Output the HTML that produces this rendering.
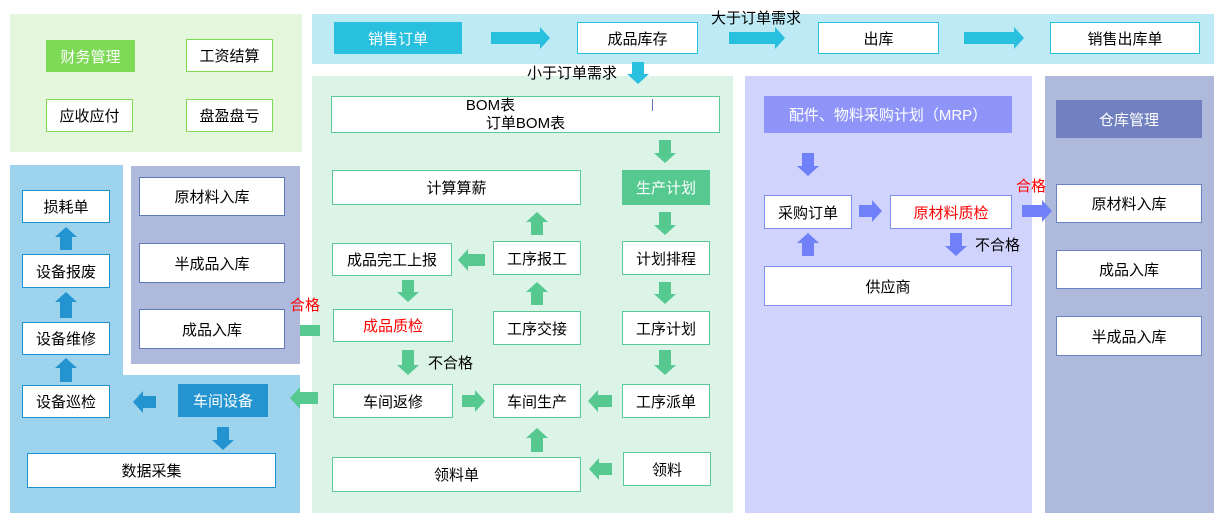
<!DOCTYPE html>
<html><head><meta charset="utf-8">
<style>
body{margin:0;width:1231px;height:527px;background:#fff;position:relative;overflow:hidden;font-family:"Liberation Sans","Noto Sans CJK SC",sans-serif;font-size:15px;color:#000}
.p{position:absolute}
.b{position:absolute;box-sizing:border-box;background:#fff;display:flex;align-items:center;justify-content:center;border:1.5px solid #5cc896}
.t{position:absolute;white-space:nowrap}
svg{position:absolute;left:0;top:0}
</style></head><body>
<div class="p" style="left:10px;top:14px;width:292px;height:138px;background:#e4f6dc"></div>
<div class="p" style="left:312px;top:14px;width:902px;height:50px;background:#bdeaf5"></div>
<div class="p" style="left:312px;top:76px;width:421px;height:437px;background:#dcf3e8"></div>
<div class="p" style="left:10px;top:165px;width:113px;height:348px;background:#9dd3ed"></div>
<div class="p" style="left:10px;top:375px;width:290px;height:138px;background:#9dd3ed"></div>
<div class="p" style="left:131px;top:166px;width:169px;height:198px;background:#aeb9dc"></div>
<div class="p" style="left:745px;top:76px;width:287px;height:437px;background:#d0d3fb"></div>
<div class="p" style="left:1045px;top:76px;width:169px;height:437px;background:#aeb9dc"></div>

<div class="b" style="left:46px;top:40px;width:89px;height:32px;background:#7ed957;border:none;color:#fff">财务管理</div>
<div class="b" style="left:186px;top:39px;width:87px;height:33px;border-color:#7ed957">工资结算</div>
<div class="b" style="left:46px;top:99px;width:87px;height:33px;border-color:#7ed957">应收应付</div>
<div class="b" style="left:186px;top:99px;width:87px;height:33px;border-color:#7ed957">盘盈盘亏</div>

<div class="b" style="left:334px;top:22px;width:128px;height:32px;background:#29c0e0;border:none;color:#fff">销售订单</div>
<div class="b" style="left:577px;top:22px;width:121px;height:32px;border-color:#29c0e0">成品库存</div>
<div class="t" style="left:711px;top:7px">大于订单需求</div>
<div class="b" style="left:818px;top:22px;width:121px;height:32px;border-color:#29c0e0">出库</div>
<div class="b" style="left:1050px;top:22px;width:150px;height:32px;border-color:#29c0e0">销售出库单</div>
<div class="t" style="left:527px;top:62px">小于订单需求</div>

<div class="b" style="left:331px;top:96px;width:389px;height:37px;flex-direction:column;line-height:18px;font-size:15px"><div style="margin-left:-70px">BOM表</div><div>订单BOM表</div></div>
<div class="p" style="left:652px;top:99px;width:1px;height:12px;background:#6070c0"></div>
<div class="b" style="left:332px;top:170px;width:249px;height:35px">计算算薪</div>
<div class="b" style="left:622px;top:170px;width:88px;height:35px;background:#56c991;border:none;color:#fff">生产计划</div>
<div class="b" style="left:332px;top:243px;width:120px;height:33px">成品完工上报</div>
<div class="b" style="left:493px;top:241px;width:88px;height:34px">工序报工</div>
<div class="b" style="left:622px;top:241px;width:88px;height:34px">计划排程</div>
<div class="b" style="left:333px;top:309px;width:120px;height:33px;color:#f00">成品质检</div>
<div class="b" style="left:493px;top:311px;width:88px;height:34px">工序交接</div>
<div class="b" style="left:622px;top:311px;width:88px;height:34px">工序计划</div>
<div class="b" style="left:333px;top:384px;width:120px;height:34px">车间返修</div>
<div class="b" style="left:493px;top:384px;width:88px;height:34px">车间生产</div>
<div class="b" style="left:622px;top:384px;width:88px;height:34px">工序派单</div>
<div class="b" style="left:332px;top:457px;width:249px;height:35px">领料单</div>
<div class="b" style="left:623px;top:452px;width:88px;height:34px">领料</div>
<div class="t" style="left:428px;top:352px">不合格</div>
<div class="t" style="left:290px;top:294px;color:#f00">合格</div>

<div class="b" style="left:22px;top:190px;width:88px;height:33px;border-color:#1e90d0">损耗单</div>
<div class="b" style="left:22px;top:254px;width:88px;height:34px;border-color:#1e90d0">设备报废</div>
<div class="b" style="left:22px;top:322px;width:88px;height:33px;border-color:#1e90d0">设备维修</div>
<div class="b" style="left:22px;top:385px;width:88px;height:33px;border-color:#1e90d0">设备巡检</div>
<div class="b" style="left:139px;top:177px;width:146px;height:39px;border-color:#5e78b8">原材料入库</div>
<div class="b" style="left:139px;top:243px;width:146px;height:40px;border-color:#5e78b8">半成品入库</div>
<div class="b" style="left:139px;top:309px;width:146px;height:40px;border-color:#5e78b8">成品入库</div>
<div class="b" style="left:178px;top:384px;width:90px;height:33px;background:#2394d0;border:none;color:#fff">车间设备</div>
<div class="b" style="left:27px;top:453px;width:249px;height:35px;border-color:#1e90d0">数据采集</div>

<div class="b" style="left:764px;top:96px;width:248px;height:37px;background:#8f95f8;border:none;color:#fff">配件、物料采购计划（MRP）</div>
<div class="b" style="left:764px;top:195px;width:88px;height:34px;border-color:#8090f0">采购订单</div>
<div class="b" style="left:890px;top:195px;width:122px;height:34px;border-color:#8090f0;color:#f00">原材料质检</div>
<div class="b" style="left:764px;top:266px;width:248px;height:40px;border-color:#8090f0">供应商</div>
<div class="t" style="left:975px;top:234px">不合格</div>
<div class="t" style="left:1016px;top:175px;color:#f00">合格</div>

<div class="b" style="left:1056px;top:100px;width:146px;height:38px;background:#7080c0;border:none;color:#fff">仓库管理</div>
<div class="b" style="left:1056px;top:184px;width:146px;height:39px;border-color:#6a80c8">原材料入库</div>
<div class="b" style="left:1056px;top:250px;width:146px;height:39px;border-color:#6a80c8">成品入库</div>
<div class="b" style="left:1056px;top:316px;width:146px;height:40px;border-color:#6a80c8">半成品入库</div>

<svg id="s" width="1231" height="527"></svg>
<script>
var G='#56c991',B='#2394d0',C='#29c0e0',P='#6f80f8';
var A=[
['r',491,550,38,C],['r',729,785,38,C],['r',964,1024,38,C],['d',62,84,638,C],
['d',140,163,665,G],['d',212,235,665,G],['d',282,304,665,G],['d',350,375,665,G],
['u',212,235,537,G],['u',282,305,537,G],['u',428,452,537,G],
['l',458,485,260,G],['d',280,302,408,G],['d',350,375,408,G],
['r',462,485,401,G],['l',588,612,401,G],['l',589,612,469,G],['l',290,318,398,G],
['u',227,250,66,B],['u',292,318,66,B],['u',358,382,66,B],
['l',133,156,402,B],['d',427,450,223,B],
['d',153,176,808,P],['r',859,882,211,P],['d',233,256,956,P],['u',233,256,808,P],['r',1022,1052,211,P]
];
var h='';
A.forEach(function(a){var t=a[0],p1=a[1],p2=a[2],c=a[3],s=6,w=11,L=10,pts;
if(t=='r')pts=[[p1,c-s],[p2-L,c-s],[p2-L,c-w],[p2,c],[p2-L,c+w],[p2-L,c+s],[p1,c+s]];
if(t=='l')pts=[[p2,c-s],[p1+L,c-s],[p1+L,c-w],[p1,c],[p1+L,c+w],[p1+L,c+s],[p2,c+s]];
if(t=='d')pts=[[c-s,p1],[c-s,p2-L],[c-w,p2-L],[c,p2],[c+w,p2-L],[c+s,p2-L],[c+s,p1]];
if(t=='u')pts=[[c-s,p2],[c-s,p1+L],[c-w,p1+L],[c,p1],[c+w,p1+L],[c+s,p1+L],[c+s,p2]];
h+='<polygon fill="'+a[4]+'" points="'+pts.map(function(q){return q.join(',')}).join(' ')+'"/>';});
h+='<rect x="300" y="325" width="20" height="11" fill="'+G+'"/>';
document.getElementById('s').innerHTML=h;
</script>
</body></html>
